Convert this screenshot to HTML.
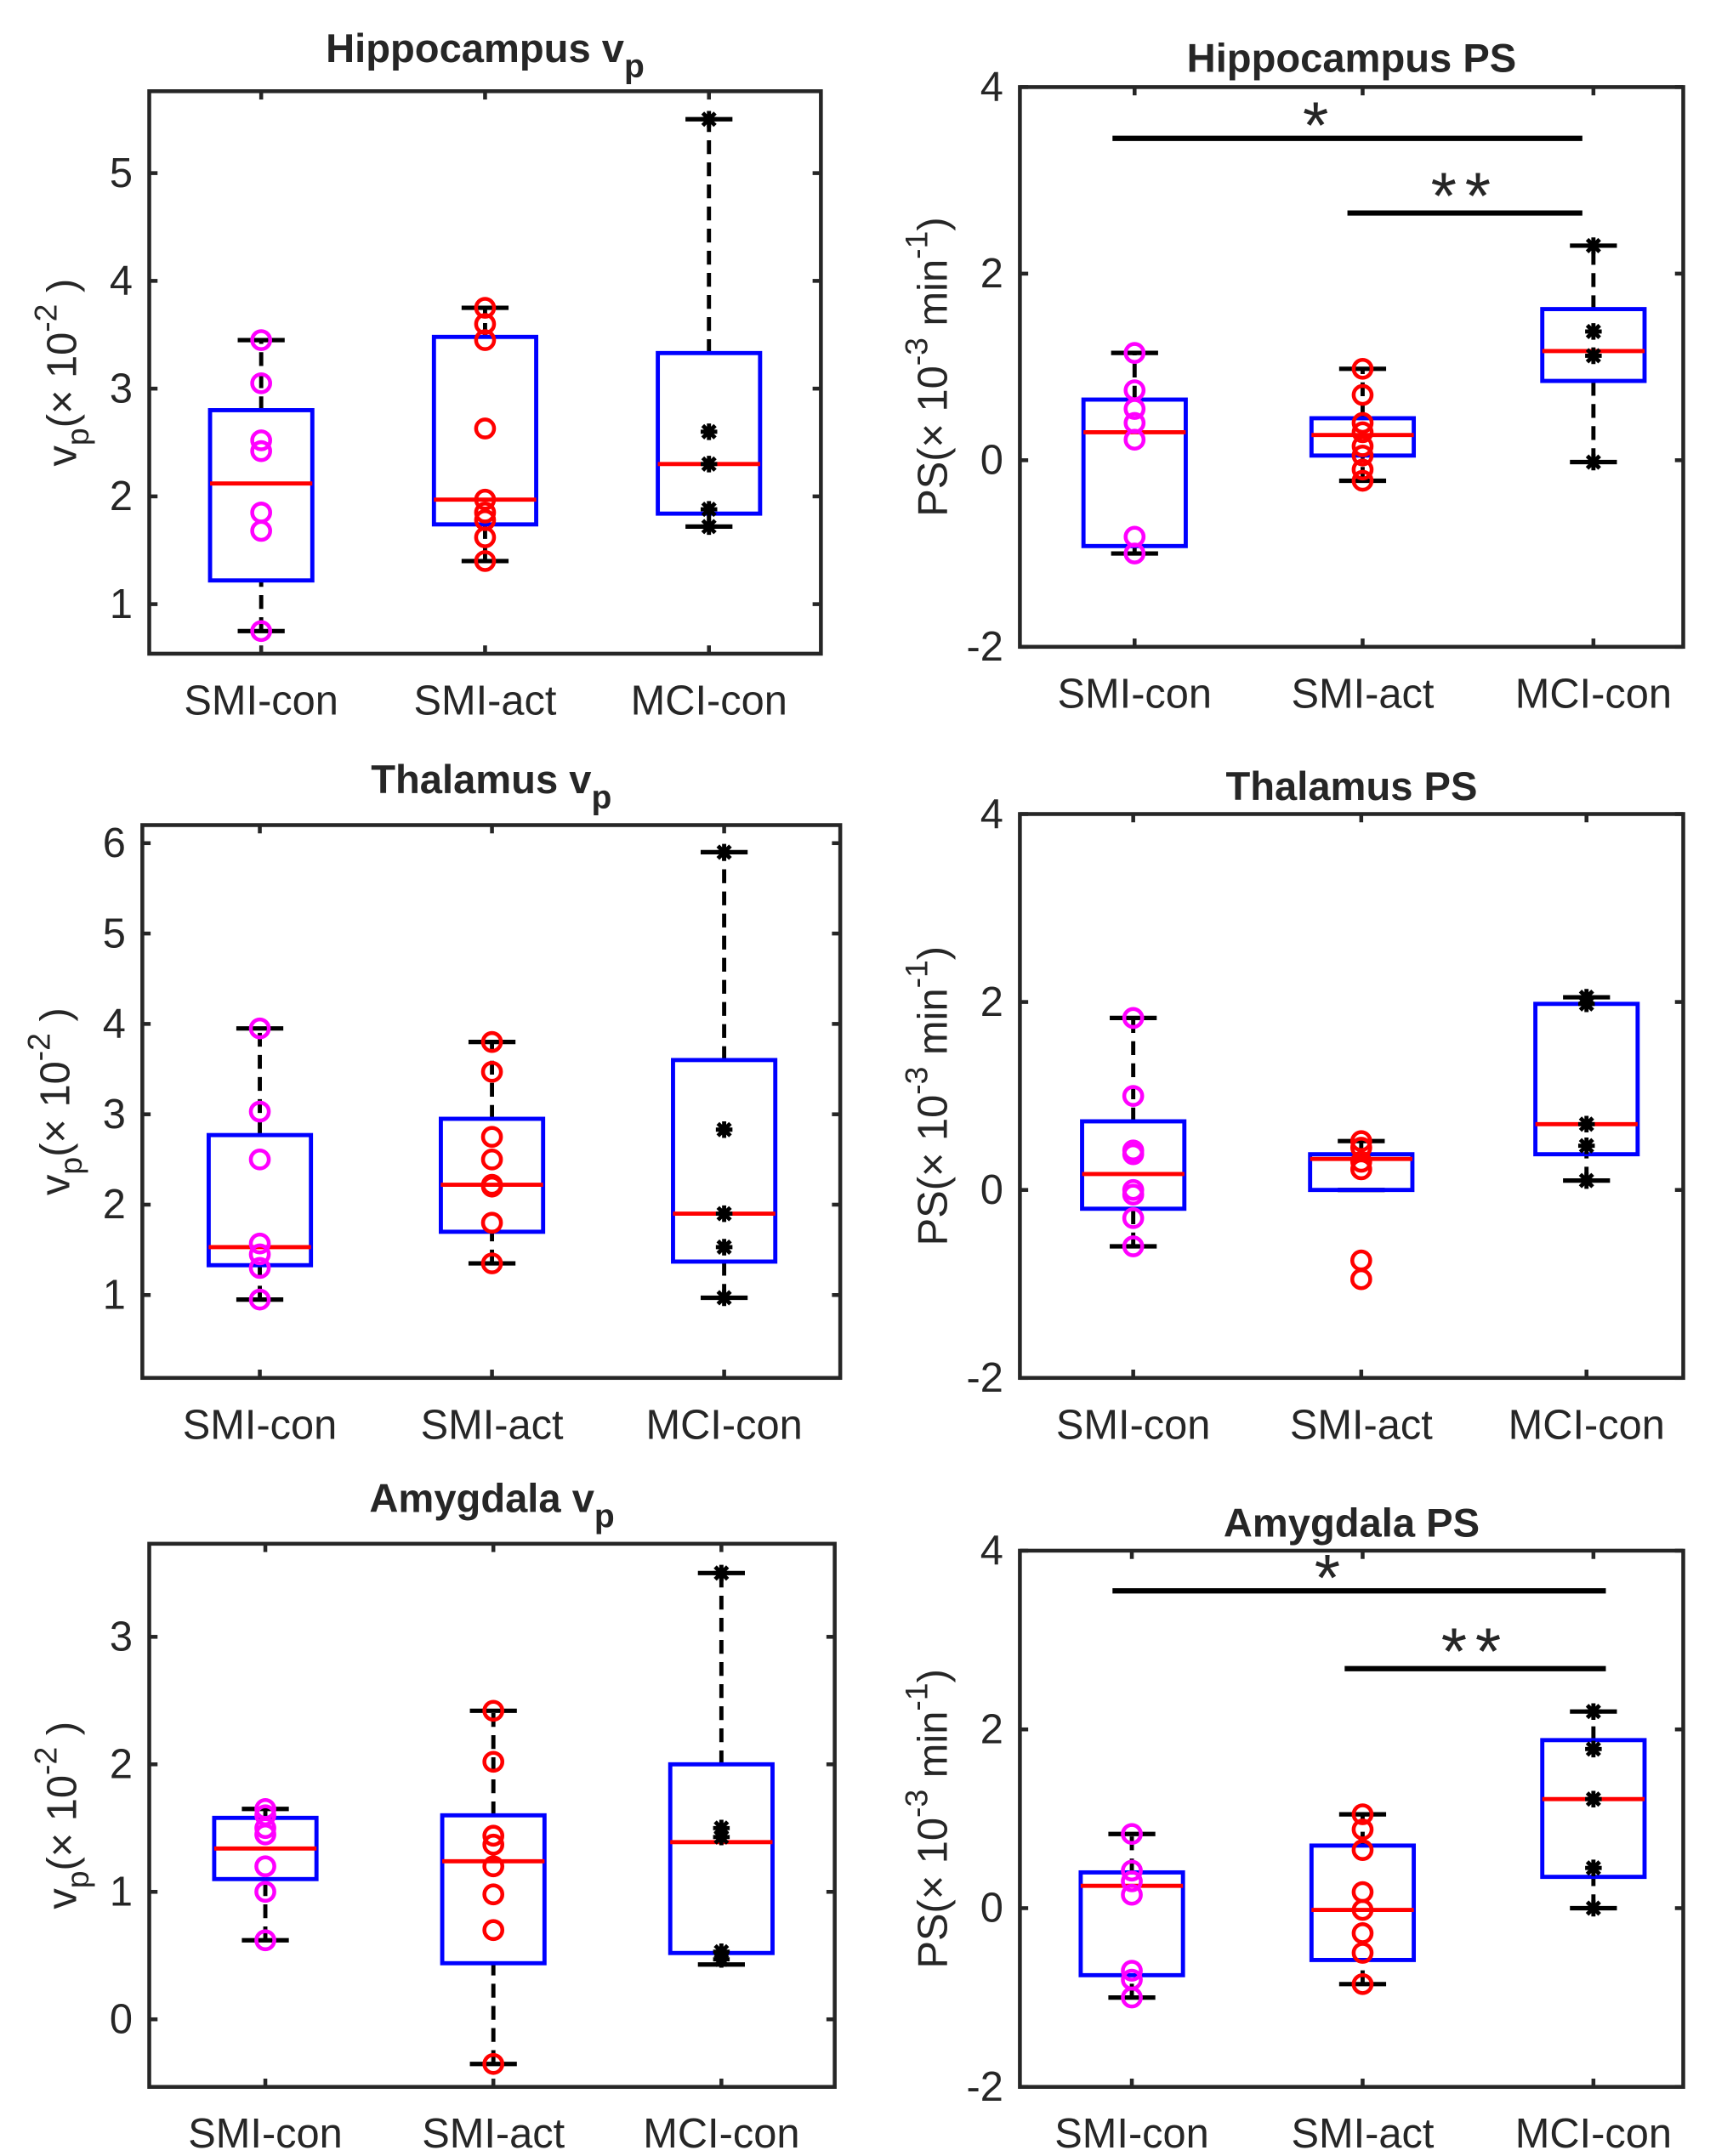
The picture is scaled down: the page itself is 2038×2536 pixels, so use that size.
<!DOCTYPE html>
<html><head><meta charset="utf-8"><style>
html,body{margin:0;padding:0;background:#fff;}
svg{display:block;}
text{font-family:"Liberation Sans",sans-serif;fill:#262626;}
</style></head><body>
<svg id="fig" width="2038" height="2536" viewBox="0 0 1254 1560" preserveAspectRatio="none" xmlns="http://www.w3.org/2000/svg"></svg>
<script>
const categories = ["SMI-con","SMI-act","MCI-con"];
// Hippocampus vp
const hipVpPts = [[3.45,3.05,2.52,2.42,1.85,1.68,0.75],[3.75,3.6,3.45,2.63,1.97,1.85,1.78,1.62,1.4],[5.5,2.6,2.3,1.88,1.72]];
const hipVpStats = [[0.75,1.22,2.12,2.8,3.45],[1.4,1.74,1.97,3.48,3.75],[1.72,1.84,2.3,3.33,5.5]];
const hipVpTicks = [1,2,3,4,5];
// Hippocampus PS
const hipPsPts = [[1.15,0.75,0.55,0.4,0.22,-0.82,-1.0],[0.98,0.7,0.4,0.3,0.15,0.05,-0.1,-0.22],[2.3,1.38,1.12,-0.02]];
const hipPsStats = [[-1.0,-0.92,0.3,0.65,1.15],[-0.22,0.05,0.27,0.45,0.98],[-0.02,0.85,1.17,1.62,2.3]];
const psTicks = [-2,0,2,4];
// Thalamus vp
const thaVpPts = [[3.95,3.03,2.5,1.57,1.45,1.3,0.95],[3.8,3.47,2.75,2.5,2.22,2.2,1.8,1.35],[5.9,2.83,1.9,1.53,0.97]];
const thaVpStats = [[0.95,1.33,1.53,2.77,3.95],[1.35,1.7,2.22,2.95,3.8],[0.97,1.37,1.9,3.6,5.9]];
const thaVpTicks = [1,2,3,4,5,6];
// Thalamus PS
const thaPsPts = [[1.83,1.0,0.42,0.38,0.0,-0.05,-0.3,-0.6],[0.52,0.45,0.3,0.22,-0.75,-0.95],[2.05,1.98,0.7,0.47,0.1]];
const thaPsStats = [[-0.6,-0.2,0.17,0.73,1.83],[0.0,0.0,0.33,0.38,0.52],[0.1,0.38,0.7,1.98,2.05]];
// Amygdala vp
const amyVpPts = [[1.65,1.6,1.5,1.45,1.2,1.0,0.62],[2.42,2.02,1.44,1.37,1.2,0.98,0.7,-0.35],[3.5,1.5,1.43,0.53,0.47]];
const amyVpStats = [[0.62,1.1,1.34,1.58,1.65],[-0.35,0.44,1.24,1.6,2.42],[0.43,0.52,1.39,2.0,3.5]];
const amyVpTicks = [0,1,2,3];
// Amygdala PS
const amyPsPts = [[0.83,0.42,0.3,0.15,-0.7,-0.8,-1.0],[1.05,0.88,0.65,0.18,-0.02,-0.28,-0.5,-0.85],[2.2,1.78,1.22,0.45,0.0]];
const amyPsStats = [[-1.0,-0.75,0.25,0.4,0.83],[-0.85,-0.58,-0.02,0.7,1.05],[0.0,0.35,1.22,1.88,2.2]];
// significance bars: [fromGroup,toGroup,value,label]
const hipSig = [[0,2,3.45,"*"],[1,2,2.65,"**"]];
const amySig = [[0,2,3.55,"*"],[1,2,2.68,"**"]];

const NS="http://www.w3.org/2000/svg";
const svg=document.getElementById('fig');
function el(tag,attrs,parent){const e=document.createElementNS(NS,tag);for(const k in attrs)e.setAttribute(k,attrs[k]);(parent||svg).appendChild(e);return e;}

const panels=[
 {id:'hippocampus-vp',title:'Hippocampus v',sub:'p',x0:108,x1:594,y0:66,y1:473,vmin:0.54,vmax:5.76,cx:[189,351,513],ticks:hipVpTicks,pts:hipVpPts,st:hipVpStats,vp:true,sig:[],sx:[0,0,0],ylx:55,tt:45},
 {id:'hippocampus-ps',title:'Hippocampus PS',x0:738,x1:1218,y0:63,y1:468,vmin:-2,vmax:4,cx:[821,986,1153],ticks:psTicks,pts:hipPsPts,st:hipPsStats,vp:false,sig:hipSig,sx:[805,975,1145],ylx:685,tt:52},
 {id:'thalamus-vp',title:'Thalamus v',sub:'p',x0:103,x1:608,y0:597,y1:997,vmin:0.083,vmax:6.2,cx:[188,356,524],ticks:thaVpTicks,pts:thaVpPts,st:thaVpStats,vp:true,sig:[],sx:[0,0,0],ylx:50,tt:574},
 {id:'thalamus-ps',title:'Thalamus PS',x0:738,x1:1218,y0:589,y1:997,vmin:-2,vmax:4,cx:[820,985,1148],ticks:psTicks,pts:thaPsPts,st:thaPsStats,vp:false,sig:[],sx:[0,0,0],ylx:685,tt:579},
 {id:'amygdala-vp',title:'Amygdala v',sub:'p',x0:108,x1:604,y0:1117,y1:1510,vmin:-0.53,vmax:3.73,cx:[192,357,522],ticks:amyVpTicks,pts:amyVpPts,st:amyVpStats,vp:true,sig:[],sx:[0,0,0],ylx:55,tt:1094},
 {id:'amygdala-ps',title:'Amygdala PS',x0:738,x1:1218,y0:1122,y1:1510,vmin:-2,vmax:4,cx:[819,986,1153],ticks:psTicks,pts:amyPsPts,st:amyPsStats,vp:false,sig:amySig,sx:[805,973,1162],ylx:685,tt:1112}
];
const colors=['#ff00ff','#ff0000','#000'];

panels.forEach(p=>{
  const g=el('g',{});
  
  
  const Y=v=>p.y1-(v-p.vmin)/(p.vmax-p.vmin)*(p.y1-p.y0);
  const mid=(p.x0+p.x1)/2;
  const t=el('text',{x:mid,y:p.tt,'text-anchor':'middle','font-size':29,'font-weight':'bold',fill:'#000'},g);
  
  
  t.textContent=p.title;
  if(p.sub){const s=el('tspan',{dy:11,'font-size':24},t);s.textContent=p.sub;}
  const box=el('rect',{x:p.x0,y:p.y0,width:p.x1-p.x0,height:p.y1-p.y0,fill:'none',stroke:'#262626','stroke-width':2.8},g);
  
  
  p.ticks.forEach(v=>{
    const y=Y(v);
    el('line',{x1:p.x0,x2:p.x0+6,y1:y,y2:y,stroke:'#262626','stroke-width':2.8},g);
    el('line',{x1:p.x1,x2:p.x1-6,y1:y,y2:y,stroke:'#262626','stroke-width':2.8},g);
    const tl=el('text',{x:p.x0-12,y:y+10,'text-anchor':'end','font-size':30},g);
    
    
    tl.textContent=v;
  });
  const yl=el('text',{transform:`translate(${p.ylx},${(p.y0+p.y1)/2}) rotate(-90)`,'text-anchor':'middle','font-size':30},g);
  
  
  if(p.vp){yl.innerHTML='v<tspan dy="9" font-size="23">p</tspan><tspan dy="-9">(× 10</tspan><tspan dy="-14" font-size="23">-2</tspan><tspan dy="14"> )</tspan>';}
  else{yl.innerHTML='PS(× 10<tspan dy="-14" font-size="23">-3</tspan><tspan dy="14"> min</tspan><tspan dy="-14" font-size="23">-1</tspan><tspan dy="14">)</tspan>';}
  categories.forEach((c,i)=>{
    const cx=p.cx[i];
    el('line',{x1:cx,x2:cx,y1:p.y0,y2:p.y0+6,stroke:'#262626','stroke-width':2.8},g);
    el('line',{x1:cx,x2:cx,y1:p.y1,y2:p.y1-6,stroke:'#262626','stroke-width':2.8},g);
    const xl=el('text',{x:cx,y:p.y1+44,'text-anchor':'middle','font-size':30},g);
    
    
    xl.textContent=c;
    const s=p.st[i];
    const bg=el('g',{},g);
    
    
    el('line',{x1:cx,x2:cx,y1:Y(s[0]),y2:Y(s[1]),stroke:'#000','stroke-width':3,'stroke-dasharray':'10,6'},bg);
    el('line',{x1:cx,x2:cx,y1:Y(s[3]),y2:Y(s[4]),stroke:'#000','stroke-width':3,'stroke-dasharray':'10,6'},bg);
    el('line',{x1:cx-17,x2:cx+17,y1:Y(s[0]),y2:Y(s[0]),stroke:'#000','stroke-width':3.2},bg);
    el('line',{x1:cx-17,x2:cx+17,y1:Y(s[4]),y2:Y(s[4]),stroke:'#000','stroke-width':3.2},bg);
    el('rect',{x:cx-37,y:Y(s[3]),width:74,height:Math.max(0.1,Y(s[1])-Y(s[3])),fill:'none',stroke:'#0000ff','stroke-width':3},bg);
    el('line',{x1:cx-37,x2:cx+37,y1:Y(s[2]),y2:Y(s[2]),stroke:'#ff0000','stroke-width':3},bg);
    p.pts[i].forEach(v=>{
      let m;
      const y=Y(v);
      if(i<2){m=el('circle',{cx:cx,cy:y,r:6.5,fill:'none',stroke:colors[i],'stroke-width':2.8},bg);}
      else{
        m=el('path',{d:`M${cx-6} ${y}H${cx+6}M${cx} ${y-6}V${y+6}M${cx-4.5} ${y-4.5}L${cx+4.5} ${y+4.5}M${cx-4.5} ${y+4.5}L${cx+4.5} ${y-4.5}`,stroke:'#000','stroke-width':3,fill:'none'},bg);
      }
      
      
    });
  });
  p.sig.forEach(sg=>{
    const y=Y(sg[2]);
    const xa=sg[0]==0?p.sx[0]:p.sx[1], xb=p.sx[2];
    const l=el('line',{x1:xa,x2:xb,y1:y,y2:y,stroke:'#000','stroke-width':3.8},g);
    
    
    const st=el('text',{x:(xa+xb)/2+(sg[0]==0?-20:0),y:y+(sg[3]=="*"?7:4),'text-anchor':'middle','font-size':48,fill:'#000','letter-spacing':'6'},g);
    
    
    st.textContent=sg[3];
  });
});
</script>
</body></html>
